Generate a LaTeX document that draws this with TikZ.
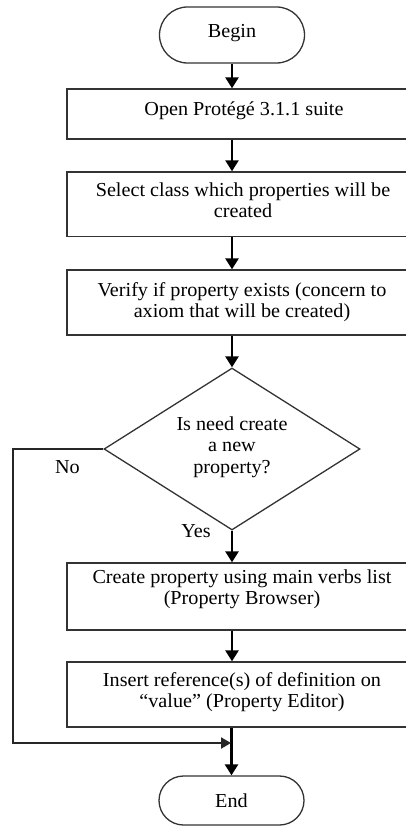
\documentclass[tikz,border=0pt]{standalone}
\usepackage{fontspec}
\setmainfont{Liberation Serif}[FakeStretch=1.02]
\usetikzlibrary{shapes.geometric,arrows.meta}
\begin{document}
\begin{tikzpicture}[x=1pt,y=-1pt,
  box/.style={draw=black!80,line width=1.3pt,rectangle,minimum width=350pt,inner sep=0pt},
  term/.style={draw=black!80,line width=1.3pt,rectangle,minimum width=145pt,inner sep=0pt},
  dec/.style={draw=black!80,line width=1.3pt,diamond,minimum width=256pt,minimum height=162pt,inner sep=0pt},
  txt/.style={align=center,font=\fontsize{19.8}{21.3}\selectfont,inner sep=0pt},
  flow/.style={line width=2.5pt,-{Triangle[width=13pt,length=11pt]}},
  back/.style={line width=2pt,draw=black!85,-{Triangle[width=11pt,length=10pt]}}]
\useasboundingbox (0,0) rectangle (406,826);
\clip (0,0) rectangle (406,826);
% shapes
\node[term,minimum height=56pt,rounded corners=28pt] (begin) at (232,35) {};
\node[txt] (begint) at (232,33) {Begin};
\node[box,minimum height=50pt] (b1) at (242,114) {};
\node[txt] (b1t) at (244,111) {Open Protégé 3.1.1 suite};
\node[box,minimum height=64.7pt] (b2) at (242,204.3) {};
\node[txt] (b2t) at (243,200.5) {Select class which properties will be\\created};
\node[box,minimum height=65pt] (b3) at (242,302.5) {};
\node[txt] (b3t) at (242,302) {Verify if property exists (concern to\\axiom that will be created)};
\node[dec] (d) at (232,449) {};
\node[txt] (dt) at (232,447) {Is need create\\a new\\property?};
\node[box,minimum height=67pt] (b4) at (242,596.5) {};
\node[txt] (b4t) at (242,589) {Create property using main verbs list\\(Property Browser)};
\node[box,minimum height=65pt] (b5) at (242,694.5) {};
\node[txt] (b5t) at (242,692) {Insert reference(s) of definition on\\“value” (Property Editor)};
\node[term,minimum height=49pt,rounded corners=24.5pt] (end) at (231.5,800.5) {};
\node[txt] (endt) at (231.5,800.5) {End};
\node[txt] (no) at (67.5,467) {No};
\node[txt] (yes) at (196,531) {Yes};
% connectors
\coordinate (m) at (231,743);
\coordinate (noc) at (13,743);
\draw[flow] (begin.south) -- (begin.south |- b1.north);
\draw[flow] (begin.south |- b1.south) -- (begin.south |- b2.north);
\draw[flow] (begin.south |- b2.south) -- (begin.south |- b3.north);
\draw[flow] (begin.south |- b3.south) -- (d.north);
\draw[flow] (d.south) -- (d.south |- b4.north);
\draw[flow] (d.south |- b4.south) -- (d.south |- b5.north);
\draw[flow] (end.north |- b5.south) -- (end.north);
\draw[back] (d.west) -| (noc) -- (m);
\end{tikzpicture}
\end{document}
